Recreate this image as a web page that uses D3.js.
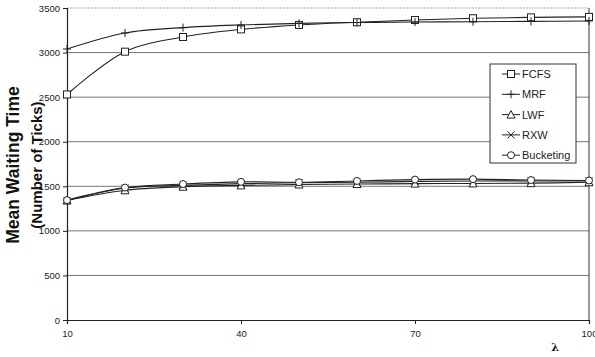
<!DOCTYPE html>
<html><head><meta charset="utf-8">
<script src="https://cdn.jsdelivr.net/npm/d3@7"></script>
<style>body{margin:0;background:#fff}svg{display:block}</style>
</head><body>
<script>
const lambdas = [10,20,30,40,50,60,70,80,90,100];
const fcfs = [2530,3010,3175,3260,3310,3340,3365,3385,3395,3400];
const mrf = [3040,3220,3280,3310,3328,3337,3343,3346,3350,3355];
const lwf = [1340,1455,1495,1510,1520,1525,1530,1532,1535,1545];
const rxw = [1340,1480,1510,1530,1540,1545,1555,1560,1560,1560];
const bucketing = [1345,1485,1525,1550,1545,1560,1575,1580,1570,1565];
const seriesNames = ["FCFS","MRF","LWF","RXW","Bucketing"];
const seriesValues = [fcfs,mrf,lwf,rxw,bucketing];
const yTicks = [0,500,1000,1500,2000,2500,3000,3500];
const xTicks = [10,40,70,100];

const W=595,H=357;
const svg=d3.select("body").append("svg").attr("width",W).attr("height",H);
const L=67,R=589,T=8,B=320;
const x=d3.scaleLinear().domain([10,100]).range([L,R]);
const y=d3.scaleLinear().domain([0,3500]).range([B,T]);

svg.append("g").selectAll("line").data(yTicks.slice(1)).join("line")
  .attr("x1",L).attr("x2",R).attr("y1",d=>y(d)).attr("y2",d=>y(d))
  .attr("stroke",d=>d===3500?"#aaa":"#777").attr("stroke-width",1)
  .attr("stroke-dasharray",d=>d===3500?"2,1":null);
svg.append("line").attr("x1",R).attr("x2",R).attr("y1",T).attr("y2",B).attr("stroke","#333");

const ya=d3.axisLeft(y).tickValues(yTicks).tickSize(4).tickFormat(d3.format("d"));
const gy=svg.append("g").attr("transform",`translate(${L},0)`).call(ya);
const xa=d3.axisBottom(x).tickValues(xTicks).tickSize(4).tickFormat(d3.format("d"));
const gx=svg.append("g").attr("transform",`translate(0,${B})`).call(xa);
[gy,gx].forEach(g=>{
  g.select(".domain").attr("stroke","#222").attr("stroke-width",1.2);
  g.selectAll(".tick line").attr("stroke","#222");
  g.selectAll("text").attr("font-family","'Liberation Sans Narrow','Liberation Sans',Arial,sans-serif")
   .attr("font-size",9.5).attr("fill","#222");
});
gy.selectAll("text").attr("x",-7);
gx.selectAll("text").attr("dy","1.1em");

svg.append("text").attr("transform","translate(19,165) rotate(-90)").attr("text-anchor","middle")
  .attr("font-family","'Liberation Sans',Arial,sans-serif").attr("font-weight","bold").attr("font-size",17.5)
  .attr("fill","#111").text("Mean Waiting Time");
svg.append("text").attr("transform","translate(42,165) rotate(-90)").attr("text-anchor","middle")
  .attr("font-family","'Liberation Sans',Arial,sans-serif").attr("font-weight","bold").attr("font-size",15)
  .attr("fill","#111").text("(Number of Ticks)");
svg.append("text").attr("x",555).attr("y",351).attr("text-anchor","middle")
  .attr("font-family","'DejaVu Serif',serif").attr("font-weight","bold").attr("font-size",11)
  .attr("fill","#111").text("λ");

function marker(g,name,cx,cy){
  const s="#222";
  if(name==="FCFS") g.append("rect").attr("x",cx-3.5).attr("y",cy-3.5).attr("width",7).attr("height",7).attr("fill","#fff").attr("stroke",s);
  else if(name==="MRF") g.append("path").attr("d",`M${cx-4},${cy}H${cx+4}M${cx},${cy-4}V${cy+4}`).attr("stroke",s);
  else if(name==="LWF") g.append("path").attr("d",`M${cx},${cy-4}L${cx+4},${cy+3.5}L${cx-4},${cy+3.5}Z`).attr("fill","#fff").attr("stroke",s);
  else if(name==="RXW") g.append("path").attr("d",`M${cx-3.5},${cy-3.5}L${cx+3.5},${cy+3.5}M${cx+3.5},${cy-3.5}L${cx-3.5},${cy+3.5}`).attr("stroke",s);
  else g.append("circle").attr("cx",cx).attr("cy",cy).attr("r",3.5).attr("fill","#fff").attr("stroke",s);
}

const line=d3.line().x((d,i)=>x(lambdas[i])).y(d=>y(d)).curve(d3.curveCatmullRom.alpha(0.5));
seriesNames.forEach((n,k)=>{
  const g=svg.append("g");
  g.append("path").attr("d",line(seriesValues[k])).attr("fill","none").attr("stroke","#222").attr("stroke-width",1.1);
  seriesValues[k].forEach((v,i)=>marker(g,n,x(lambdas[i]),y(v)));
});

const lg=svg.append("g");
lg.append("rect").attr("x",490).attr("y",64).attr("width",86).attr("height",99).attr("fill","#fff").attr("stroke","#333");
seriesNames.forEach((n,k)=>{
  const cy=74+k*20.3;
  lg.append("line").attr("x1",502).attr("x2",520).attr("y1",cy).attr("y2",cy).attr("stroke","#222");
  marker(lg,n,511,cy);
  lg.append("text").attr("x",522).attr("y",cy+4).attr("font-family","'Liberation Sans Narrow','Liberation Sans',Arial,sans-serif")
    .attr("font-size",11).attr("fill","#222").text(n);
});
</script>
</body></html>
